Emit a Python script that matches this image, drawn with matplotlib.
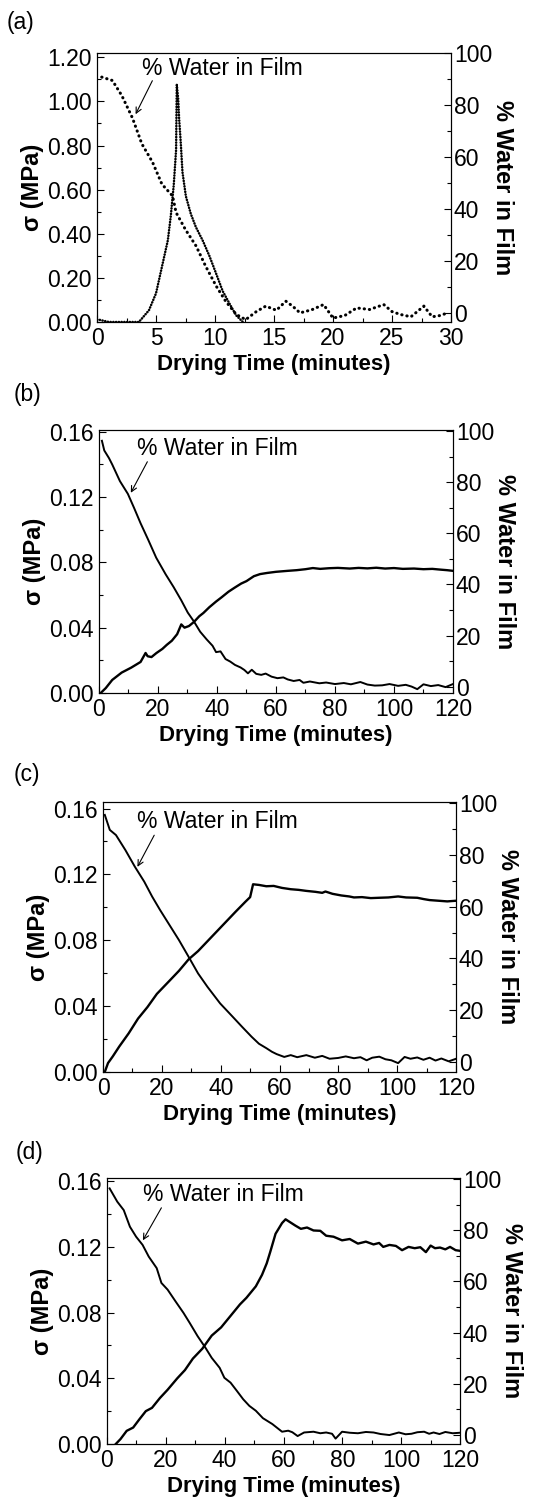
import numpy as np
import matplotlib
matplotlib.use("Agg")
import matplotlib.pyplot as plt
from matplotlib.ticker import MultipleLocator, FormatStrFormatter

plt.rcParams['font.family'] = ['Liberation Sans', 'DejaVu Sans']

# ---- panel (a) ----
a_water_t = [0.4, 1.3, 2.1, 3.0, 3.8, 4.7, 5.5, 6.4, 6.7, 7.5, 8.4, 9.2, 10.1, 10.9, 11.8, 12.6,
             13.5, 14.3, 15.2, 16.0, 16.6, 17.2, 18.2, 19.2, 20.0, 21.0, 22.0, 23.1, 24.3,
             25.0, 25.7, 26.6, 27.7, 28.4, 29.1, 29.7]
a_water_w = [90.7, 89.4, 83.6, 75.0, 65.0, 58.0, 49.5, 45.0, 38.6, 32.0, 25.7, 18.0, 10.3, 4.5, -0.6, -2.6,
             0.5, 2.6, 1.0, 4.5, 2.5, 0.0, 1.2, 3.2, -2.0, -1.0, 1.9, 1.3, 3.2,
             0.5, -0.6, -1.5, 2.6, -1.5, -1.0, 0.0]
a_stress_t = [0.0, 0.2, 1.0, 3.0, 3.55, 4.4, 5.0, 5.5, 6.0, 6.25, 6.5, 6.7, 6.76, 6.88, 6.96, 7.10,
              7.24, 7.53, 7.95, 8.38, 8.95, 9.52, 10.09, 10.65, 11.22, 11.79, 12.36]
a_stress_s = [0.01, 0.01, 0.0, 0.0, 0.0, 0.053, 0.13, 0.25, 0.37, 0.48, 0.62, 0.78, 1.075, 1.01, 0.92, 0.81,
              0.68, 0.57, 0.49, 0.43, 0.37, 0.30, 0.22, 0.14, 0.084, 0.03, 0.0]

# ---- panel (b) ----
b_stress_t = [0.6, 2.3, 4.5, 7.7, 10.9, 14.1, 15.8, 16.5, 17.8, 19.5, 21.5, 23.0, 24.7, 26.5, 27.9,
              29.0, 30.5, 32.2, 34.0, 35.4, 37.4, 39.7, 41.5, 43.9, 46.0, 48.2, 50.0, 52.5, 54.6,
              57.0, 60.0, 64.0, 67.0, 70.0, 72.5, 75.0, 78.0, 81.0, 85.0, 88.0, 91.0, 94.0, 97.0,
              100.0, 103.0, 106.8, 110.0, 113.0, 116.0, 118.0, 120.0]
b_stress_s = [0.0, 0.003, 0.008, 0.0125, 0.0155, 0.019, 0.0245, 0.0225, 0.022, 0.0245, 0.027, 0.0295,
              0.032, 0.036, 0.042, 0.040, 0.041, 0.0435, 0.047, 0.049, 0.0525, 0.056, 0.0585, 0.062,
              0.0645, 0.067, 0.0685, 0.0715, 0.0728, 0.0735, 0.0742, 0.0748, 0.0752, 0.0758, 0.0765,
              0.0760, 0.0764, 0.0766, 0.0762, 0.0766, 0.0763, 0.0767, 0.0762, 0.0765, 0.0760, 0.0762,
              0.0758, 0.0760, 0.0755, 0.0752, 0.0748]
b_water_t = [1.0, 1.8, 3.4, 4.5, 7.1, 9.8, 11.9, 14.1, 16.7, 19.4, 22.6, 25.3, 27.9, 30.1, 32.2, 34.3,
             36.5, 38.5, 39.7, 41.2, 42.9, 44.5, 46.1, 48.0, 49.3, 50.5, 51.8, 53.3, 55.0, 56.5, 58.5,
             60.5, 62.5, 64.0, 66.0, 68.0, 69.3, 71.5, 74.7, 77.0, 80.0, 83.0, 85.4, 88.6, 91.0, 93.5,
             96.0, 98.5, 101.4, 104.0, 106.0, 107.9, 110.0, 112.5, 115.0, 117.5, 120.0]
b_water_w = [96.3, 92.5, 89.5, 87.0, 80.5, 75.5, 70.0, 64.0, 57.5, 50.5, 44.0, 39.0, 33.8, 29.0, 25.5,
             21.5, 18.5, 16.0, 13.5, 13.8, 10.8, 9.8, 8.5, 7.5, 6.5, 5.2, 6.6, 5.0, 4.6, 5.1, 3.9,
             3.3, 3.6, 2.8, 2.2, 2.6, 1.5, 2.0, 1.3, 1.6, 1.0, 1.4, 0.9, 1.8, 0.8, 0.4, 0.5, 1.0,
             0.3, 0.7, 0.0, -1.0, 0.9, 0.2, 0.6, -0.2, 1.0]

# ---- panel (c) ----
c_stress_t = [0.6, 1.7, 3.3, 5.5, 8.7, 11.9, 15.1, 18.3, 22.6, 25.8, 29.1, 32.3, 35.5, 38.7, 41.9,
              45.1, 48.4, 50.0, 51.0, 53.0, 55.5, 58.0, 60.8, 63.8, 66.5, 69.0, 72.2, 74.5, 75.6,
              78.0, 81.0, 83.7, 85.3, 88.0, 91.0, 93.9, 97.0, 100.3, 103.0, 106.8, 109.0, 111.0,
              114.0, 117.0, 120.0]
c_stress_s = [0.0, 0.0054, 0.0094, 0.0154, 0.0234, 0.0324, 0.0394, 0.0474, 0.0554, 0.0614, 0.0684,
              0.0734, 0.0794, 0.0854, 0.0914, 0.0974, 0.1034, 0.1062, 0.1140, 0.1136, 0.1128, 0.1130,
              0.1118, 0.1110, 0.1106, 0.1100, 0.1094, 0.1088, 0.1096, 0.1082, 0.1072, 0.1066, 0.1060,
              0.1062, 0.1056, 0.1058, 0.1060, 0.1066, 0.1060, 0.1058, 0.1050, 0.1044, 0.1040, 0.1036,
              0.1040]
c_water_t = [0.6, 2.3, 4.4, 7.6, 10.8, 14.0, 16.7, 19.4, 22.6, 25.8, 29.1, 32.3, 35.5, 39.8, 44.1,
             47.3, 50.5, 53.0, 55.5, 57.4, 59.0, 61.6, 63.8, 66.0, 69.1, 72.0, 74.5, 77.0, 79.9,
             82.5, 85.3, 87.5, 89.6, 91.5, 93.9, 96.0, 98.0, 100.3, 102.5, 104.5, 106.8, 108.9,
             111.0, 113.0, 115.0, 117.5, 120.0]
c_water_w = [95.5, 89.7, 87.7, 81.9, 75.5, 69.7, 63.9, 58.7, 52.9, 47.1, 40.6, 34.2, 29.0, 22.6, 17.4,
             13.5, 9.7, 7.0, 5.3, 3.9, 3.0, 1.9, 2.6, 1.8, 2.6, 1.6, 2.3, 1.2, 1.5, 2.1, 1.4, 1.8,
             0.6, 1.6, 2.0, 1.0, 0.6, -0.5, 1.9, 1.2, 1.7, 0.8, 1.6, 0.5, 1.3, 0.2, 1.2]

# ---- panel (d) ----
d_stress_t = [3.0, 4.6, 6.7, 8.9, 11.0, 13.2, 15.3, 18.0, 20.6, 23.9, 26.5, 29.2, 32.4, 35.6, 38.8,
              42.0, 45.2, 47.4, 50.6, 52.7, 54.3, 55.5, 57.3, 59.5, 60.7, 62.7, 64.0, 65.9, 68.0,
              70.2, 72.5, 74.5, 77.0, 79.9, 82.5, 85.3, 88.0, 90.6, 92.5, 93.9, 96.0, 98.2, 100.3,
              102.5, 104.6, 106.5, 108.4, 110.0, 111.5, 113.2, 115.0, 116.6, 118.5, 120.0]
d_stress_s = [0.0, 0.003, 0.008, 0.010, 0.015, 0.020, 0.022, 0.028, 0.033, 0.040, 0.045, 0.052, 0.058,
              0.066, 0.071, 0.078, 0.085, 0.089, 0.096, 0.103, 0.110, 0.117, 0.128, 0.1345, 0.1368,
              0.1345, 0.1330, 0.1310, 0.1318, 0.1300, 0.1298, 0.1268, 0.1262, 0.1240, 0.1248, 0.1220,
              0.1232, 0.1215, 0.1224, 0.1200, 0.1212, 0.1206, 0.1180, 0.1200, 0.1192, 0.1198, 0.1168,
              0.1208, 0.1192, 0.1196, 0.1185, 0.1200, 0.1180, 0.1176]
d_water_t = [0.9, 3.5, 5.7, 7.8, 9.9, 12.1, 14.2, 16.9, 18.5, 20.6, 23.3, 26.0, 28.1, 30.8, 33.5,
             35.6, 38.3, 39.9, 42.0, 44.2, 46.3, 48.4, 50.6, 53.0, 56.2, 58.4, 59.5, 61.6, 63.0,
             64.8, 67.0, 70.2, 72.5, 74.5, 76.5, 77.7, 79.9, 82.5, 85.3, 88.0, 90.6, 93.0, 96.0,
             99.2, 101.5, 103.5, 105.5, 107.8, 109.5, 111.0, 113.0, 115.0, 117.5, 120.0]
d_water_w = [96.4, 91.2, 87.9, 81.4, 77.5, 74.3, 69.7, 65.2, 59.4, 56.8, 52.2, 47.7, 43.8, 38.6, 34.0,
             30.1, 26.2, 22.3, 20.4, 17.1, 13.9, 11.3, 9.4, 6.5, 4.2, 2.2, 1.2, 1.6, 1.0, -0.5, 0.9,
             1.2, 0.6, 0.9, 0.4, -1.5, 1.2, 0.8, 0.6, 1.1, 0.9, 0.3, -0.1, 0.9, 0.2, 0.4, 1.0, 1.2,
             0.4, 0.9, 0.3, 1.1, 0.6, 0.8]

panels = [
    dict(tag='(a)', rect=[0.1745, 0.7852, 0.6367, 0.1795], tagpos=(0.012, 0.985),
         xmax=30, xmaj=5, xmin=2.5, ylim=(0, 1.22), ymaj=0.2, ymin=0.1, wlim=(-3.5, 100),
         water=(a_water_t, a_water_w), stress=(a_stress_t, a_stress_s), dotted=True,
         text=(3.8, 1.15), tail=(4.69, 1.094), head=(3.27, 0.942)),
    dict(tag='(b)', rect=[0.178, 0.5377, 0.6367, 0.1754], tagpos=(0.025, 0.737),
         xmax=120, xmaj=20, xmin=10, ylim=(0, 0.161), ymaj=0.04, ymin=0.02, wlim=(-2.5, 100.5),
         water=(b_water_t, b_water_w), stress=(b_stress_t, b_stress_s), dotted=False,
         text=(13.0, 0.150), tail=(16.4, 0.1416), head=(10.8, 0.1226)),
    dict(tag='(c)', rect=[0.1853, 0.2849, 0.635, 0.1801], tagpos=(0.025, 0.483),
         xmax=120, xmaj=20, xmin=10, ylim=(0, 0.164), ymaj=0.04, ymin=0.02, wlim=(-3.9, 100.5),
         water=(c_water_t, c_water_w), stress=(c_stress_t, c_stress_s), dotted=False,
         text=(11.7, 0.152), tail=(17.4, 0.1438), head=(11.7, 0.1246)),
    dict(tag='(d)', rect=[0.1924, 0.0367, 0.635, 0.1775], tagpos=(0.028, 0.231),
         xmax=120, xmaj=20, xmin=10, ylim=(0, 0.162), ymaj=0.04, ymin=0.02, wlim=(-3.6, 100.5),
         water=(d_water_t, d_water_w), stress=(d_stress_t, d_stress_s), dotted=False,
         text=(12.2, 0.152), tail=(18.5, 0.1438), head=(12.2, 0.124)),
]

fig = plt.figure(figsize=(5.56, 14.99), dpi=100)

for p in panels:
    ax = fig.add_axes(p['rect'])
    ax2 = ax.twinx()

    if p['dotted']:
        ax2.plot(p['water'][0], p['water'][1], color='black', lw=2.2,
                 ls=(0, (0.1, 1.6)), dash_capstyle='round')
        ax.plot(p['stress'][0], p['stress'][1], color='black', lw=1.8,
                ls=(0, (0.1, 1.0)), dash_capstyle='round')
    else:
        ax2.plot(p['water'][0], p['water'][1], color='black', lw=1.4)
        ax.plot(p['stress'][0], p['stress'][1], color='black', lw=1.7)

    ax.set_xlim(0, p['xmax'])
    ax.set_ylim(*p['ylim'])
    ax2.set_ylim(*p['wlim'])

    ax.xaxis.set_major_locator(MultipleLocator(p['xmaj']))
    ax.xaxis.set_minor_locator(MultipleLocator(p['xmin']))
    ax.yaxis.set_major_locator(MultipleLocator(p['ymaj']))
    ax.yaxis.set_minor_locator(MultipleLocator(p['ymin']))
    ax.yaxis.set_major_formatter(FormatStrFormatter('%.2f'))
    ax2.yaxis.set_major_locator(MultipleLocator(20))
    ax2.yaxis.set_minor_locator(MultipleLocator(10))

    for a in (ax, ax2):
        a.tick_params(which='both', direction='in', labelsize=16.5, top=False)
        a.tick_params(which='major', length=5, width=0.8)
        a.tick_params(which='minor', length=3, width=0.8)
        for s in a.spines.values():
            s.set_linewidth(0.8)
    ax.tick_params(axis='y', which='both', right=False, pad=4)
    ax.tick_params(axis='x', pad=3.5)
    ax2.tick_params(axis='y', pad=2)

    ax.set_xlabel('Drying Time (minutes)', fontsize=16, fontweight='bold', labelpad=3)
    ax.set_ylabel('σ (MPa)', fontsize=17, fontweight='bold', labelpad=2)
    ax2.set_ylabel('% Water in Film', fontsize=17, fontweight='bold', rotation=-90, labelpad=16)

    ax.text(p['text'][0], p['text'][1], '% Water in Film', fontsize=16.5, ha='left', va='center')
    ax.annotate('', xy=p['head'], xytext=p['tail'],
                arrowprops=dict(arrowstyle='->', color='black', lw=0.8, shrinkA=0, shrinkB=0))

    fig.text(p['tagpos'][0], p['tagpos'][1], p['tag'], fontsize=16.5, ha='left', va='center')

fig.savefig('out.png', dpi=100)
